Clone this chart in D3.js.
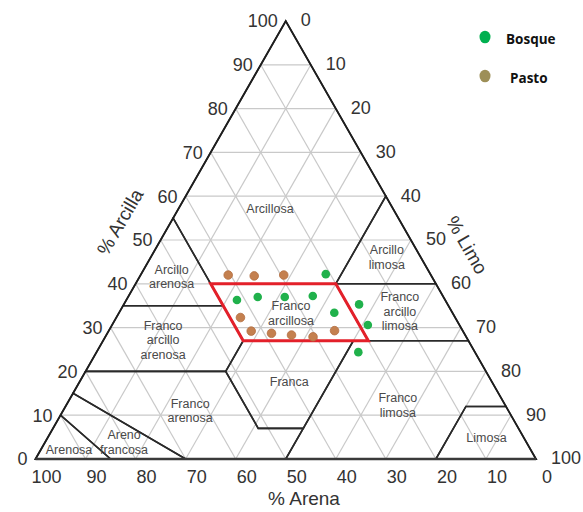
<!DOCTYPE html>
<html>
<head>
<meta charset="utf-8">
<script src="https://cdn.jsdelivr.net/npm/d3@7"></script>
<style>
  html, body { margin: 0; padding: 0; background: #fff; }
  svg { display: block; }
</style>
</head>
<body>
<svg id="chart" width="583" height="512"></svg>
<script>
// ---- Data -------------------------------------------------------------
// Tick values for the three axes (percent)
const clayTicks = [0, 10, 20, 30, 40, 50, 60, 70, 80, 90, 100];
const siltTicks = [0, 10, 20, 30, 40, 50, 60, 70, 80, 90, 100];
const sandTicks = [100, 90, 80, 70, 60, 50, 40, 30, 20, 10, 0];
const gridSteps = [10, 20, 30, 40, 50, 60, 70, 80, 90];

// Soil samples under forest (Bosque): % sand, % silt, % clay
const bosqueSand = [20.9, 41.6, 37.1, 31.7, 26.0, 17.7, 23.6, 18.3, 23.3];
const bosqueSilt = [36.9, 22.1, 25.9, 31.3, 36.8, 47.0, 43.0, 51.1, 52.3];
const bosqueClay = [42.2, 36.3, 37.0, 37.0, 37.2, 35.3, 33.4, 30.6, 24.4];

// Soil samples under pasture (Pasto): % sand, % silt, % clay
const pastoSand = [40.5, 35.4, 29.4, 42.9, 42.3, 38.5, 34.7, 30.6, 25.6];
const pastoSilt = [17.5, 22.8, 28.6, 24.8, 28.5, 32.8, 37.0, 41.5, 45.1];
const pastoClay = [42.0, 41.8, 42.0, 32.3, 29.2, 28.7, 28.3, 27.9, 29.3];

// Texture class names and their boundary vertices [sand, silt, clay]
const classNames = [
  "Arenosa", "Areno francosa", "Franco arenosa", "Franca", "Franco limosa",
  "Limosa", "Franco arcillo arenosa", "Franco arcillosa",
  "Franco arcillo limosa", "Arcillo arenosa", "Arcillo limosa", "Arcillosa"
];
const classVertices = [
  [[100, 0, 0], [85, 15, 0], [90, 0, 10]],
  [[85, 15, 0], [70, 30, 0], [85, 0, 15], [90, 0, 10]],
  [[70, 30, 0], [50, 50, 0], [43, 50, 7], [52, 41, 7], [52, 28, 20], [80, 0, 20], [85, 0, 15]],
  [[52, 41, 7], [43, 50, 7], [23, 50, 27], [45, 28, 27], [52, 28, 20]],
  [[50, 50, 0], [20, 80, 0], [8, 80, 12], [0, 88, 12], [0, 73, 27], [23, 50, 27], [43, 50, 7]],
  [[20, 80, 0], [0, 100, 0], [0, 88, 12], [8, 80, 12]],
  [[80, 0, 20], [52, 28, 20], [45, 28, 27], [45, 20, 35], [65, 0, 35]],
  [[45, 28, 27], [20, 53, 27], [20, 40, 40], [45, 15, 40]],
  [[20, 53, 27], [0, 73, 27], [0, 60, 40], [20, 40, 40]],
  [[65, 0, 35], [45, 20, 35], [45, 0, 55]],
  [[20, 40, 40], [0, 60, 40], [0, 40, 60]],
  [[45, 0, 55], [0, 0, 100], [0, 40, 60], [20, 40, 40], [45, 15, 40]]
];
const highlightedClass = "Franco arcillosa";

const legendNames = ["Bosque", "Pasto"];

// ---- Layout -----------------------------------------------------------
const svg = d3.select("#chart");
const font = "'Liberation Sans', Arial, Helvetica, sans-serif";

// horizontal position runs along the base (silt + clay/2), vertical is clay
const x = d3.scaleLinear().domain([0, 100]).range([35.5, 536]);
const y = d3.scaleLinear().domain([0, 100]).range([459, 21]);
const proj = ([s, t, c]) => [x(t + c / 2), y(c)];
const line = d3.line();

// label anchors for each class, given as [silt + clay/2, clay]
const labelAnchor = {
  "Arenosa": [6.7, 2.2],
  "Areno francosa": [17.7, 3.9],
  "Franco arenosa": [30.9, 11.1],
  "Franca": [50.7, 17.6],
  "Franco limosa": [72.4, 12.3],
  "Limosa": [90.1, 4.95],
  "Franco arcillo arenosa": [25.5, 27.2],
  "Franco arcillosa": [51.05, 33.3],
  "Franco arcillo limosa": [72.8, 33.7],
  "Arcillo arenosa": [27.2, 41.6],
  "Arcillo limosa": [70.2, 46.1],
  "Arcillosa": [46.85, 57.1]
};
const labelLines = {
  "Areno francosa": ["Areno", "francosa"],
  "Franco arenosa": ["Franco", "arenosa"],
  "Franco limosa": ["Franco", "limosa"],
  "Franco arcillo arenosa": ["Franco", "arcillo", "arenosa"],
  "Franco arcillosa": ["Franco", "arcillosa"],
  "Franco arcillo limosa": ["Franco", "arcillo", "limosa"],
  "Arcillo arenosa": ["Arcillo", "arenosa"],
  "Arcillo limosa": ["Arcillo", "limosa"]
};

// ---- Grid -------------------------------------------------------------
const grid = svg.append("g")
  .attr("stroke", "#c9c9c9").attr("stroke-width", 1.2).attr("fill", "none");
gridSteps.forEach(k => {
  // constant clay, constant sand, constant silt
  grid.append("path").attr("d", line([proj([100 - k, 0, k]), proj([0, 100 - k, k])]));
  grid.append("path").attr("d", line([proj([k, 100 - k, 0]), proj([k, 0, 100 - k])]));
  grid.append("path").attr("d", line([proj([100 - k, k, 0]), proj([0, k, 100 - k])]));
});

// ---- Class boundaries -------------------------------------------------
svg.append("g")
  .selectAll("path")
  .data(classVertices)
  .join("path")
  .attr("d", v => line(v.map(proj)) + "Z")
  .attr("fill", "none")
  .attr("stroke", "#2a2a2a")
  .attr("stroke-width", 1.6)
  .attr("stroke-linejoin", "miter");

// outer triangle
svg.append("path")
  .attr("d", line([proj([100, 0, 0]), proj([0, 0, 100]), proj([0, 100, 0])]) + "Z")
  .attr("fill", "none").attr("stroke", "#1e1e1e").attr("stroke-width", 1.8);
svg.append("path")
  .attr("d", line([proj([100, 0, 0]), proj([0, 100, 0])]))
  .attr("stroke", "#3a3a3a").attr("stroke-width", 2.4);

// ---- Class labels -----------------------------------------------------
const labels = svg.append("g")
  .attr("font-family", font).attr("font-size", 12.5)
  .attr("fill", "#4a4a4a").attr("text-anchor", "middle");
classNames.forEach(name => {
  const [u, c] = labelAnchor[name];
  const rows = labelLines[name] || [name];
  const lh = 14.5;
  const t = labels.append("text")
    .attr("x", x(u))
    .attr("y", y(c) - (rows.length - 1) * lh / 2);
  rows.forEach((r, i) => {
    t.append("tspan").attr("x", x(u)).attr("dy", i === 0 ? "0.35em" : lh).text(r);
  });
});

// ---- Highlighted class ------------------------------------------------
const hiIdx = classNames.indexOf(highlightedClass);
svg.append("path")
  .attr("d", line(classVertices[hiIdx].map(proj)) + "Z")
  .attr("fill", "none").attr("stroke", "#e3202a").attr("stroke-width", 3)
  .attr("stroke-linejoin", "miter");

// ---- Samples ----------------------------------------------------------
const pasto = pastoSand.map((s, i) => [s, pastoSilt[i], pastoClay[i]]);
const bosque = bosqueSand.map((s, i) => [s, bosqueSilt[i], bosqueClay[i]]);

svg.append("g").selectAll("circle").data(pasto).join("circle")
  .attr("cx", d => proj(d)[0]).attr("cy", d => proj(d)[1])
  .attr("r", 4.3).attr("fill", "#c4804f").attr("stroke", "#b36d40").attr("stroke-width", 0.8);
svg.append("g").selectAll("circle").data(bosque).join("circle")
  .attr("cx", d => proj(d)[0]).attr("cy", d => proj(d)[1])
  .attr("r", 4.3).attr("fill", "#20b14b");

// ---- Axis tick labels -------------------------------------------------
const ticks = svg.append("g")
  .attr("font-family", font).attr("font-size", 18).attr("fill", "#333");

// clay along the left edge
ticks.selectAll(".clay").data(clayTicks).join("text")
  .attr("x", c => proj([100 - c, 0, c])[0] - 8)
  .attr("y", c => y(c))
  .attr("dy", "0.35em").attr("text-anchor", "end")
  .text(c => c);

// silt along the right edge
ticks.selectAll(".silt").data(siltTicks).join("text")
  .attr("x", t => proj([0, t, 100 - t])[0] + 15)
  .attr("y", t => y(100 - t) - 1)
  .attr("dy", "0.35em").attr("text-anchor", "start")
  .text(t => t);

// sand along the base
ticks.selectAll(".sand").data(sandTicks).join("text")
  .attr("x", s => proj([s, 100 - s, 0])[0] + 11)
  .attr("y", y(0) + 18)
  .attr("dy", "0.35em").attr("text-anchor", "middle")
  .text(s => s);

// ---- Axis titles ------------------------------------------------------
const titles = svg.append("g")
  .attr("font-family", font).attr("font-size", 19).attr("fill", "#333")
  .attr("text-anchor", "middle");
titles.append("text")
  .attr("transform", "translate(120,222) rotate(-60)")
  .attr("dy", "0.35em").text("% Arcilla");
titles.append("text")
  .attr("transform", "translate(467,245) rotate(60)")
  .attr("dy", "0.35em").text("% Limo");
titles.append("text")
  .attr("x", 304).attr("y", 498)
  .attr("dy", "0.35em").text("% Arena");

// ---- Legend -----------------------------------------------------------
const legendColors = ["#00b050", "#9d8f57"];
const legend = svg.append("g").attr("font-family", "'Open Sans', 'Liberation Sans', sans-serif")
  .attr("font-weight", "bold").attr("font-size", 13.5).attr("fill", "#111");
legendNames.forEach((n, i) => {
  const cy = 37 + i * 39;
  legend.append("ellipse").attr("cx", 485).attr("cy", cy)
    .attr("rx", 5.5).attr("ry", 6.3).attr("fill", legendColors[i]);
  legend.append("text").attr("x", i === 0 ? 506 : 510).attr("y", cy + 2)
    .attr("dy", "0.35em").text(n);
});
</script>
</body>
</html>
